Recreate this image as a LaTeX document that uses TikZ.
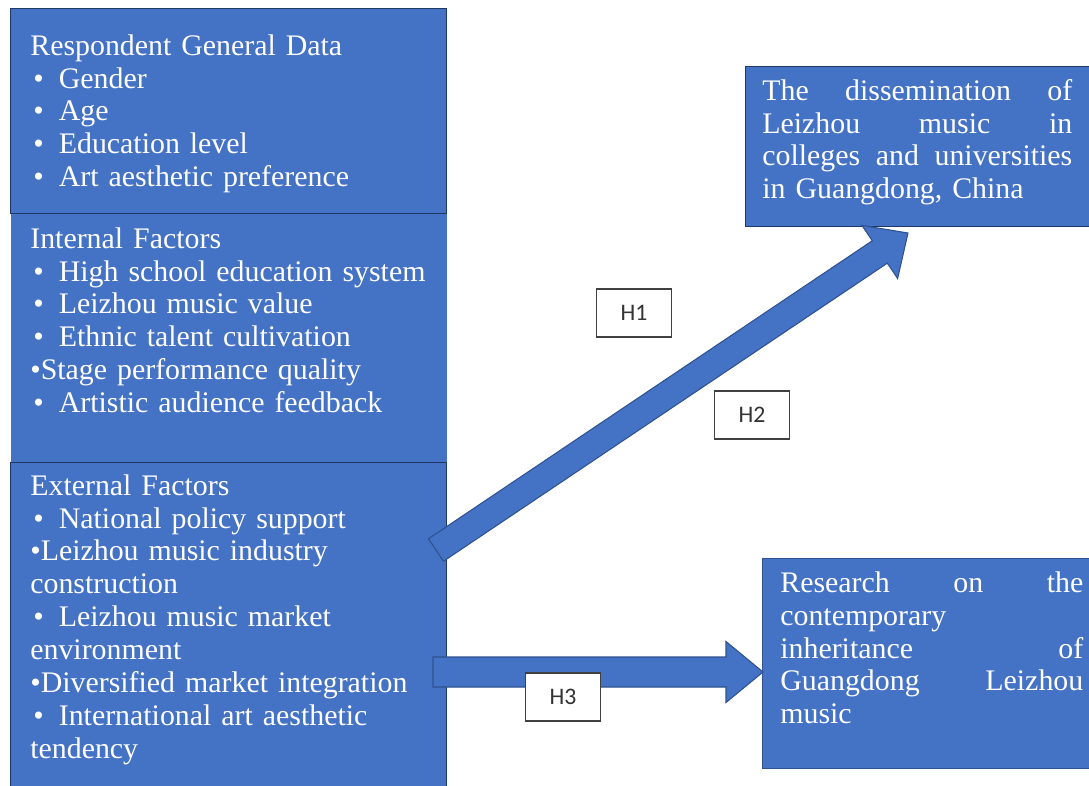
\documentclass[tikz,border=0pt]{standalone}
\usepackage{fontspec}
\setmainfont{Liberation Serif}
\newfontfamily\hfont{Carlito}
\usetikzlibrary{calc}
\usetikzlibrary{positioning}
\definecolor{boxblue}{HTML}{4472C4}
\definecolor{boxline}{HTML}{203864}
\definecolor{arrowline}{HTML}{2F528F}
\definecolor{hline}{HTML}{404040}
\tikzstyle{panel} = [rectangle, draw=boxline, line width=0.8pt, fill=boxblue,
    inner sep=0pt, anchor=north west]
\tikzstyle{txt} = [text=white, align=left, inner sep=0pt, anchor=base west,
    font=\fontsize{17}{18.78}\selectfont]
\tikzstyle{hyp} = [rectangle, draw=hline, fill=white, line width=0.8pt,
    minimum width=1.5cm, minimum height=0.96cm, text=black!80,
    font=\hfont\fontsize{13.5}{16}\selectfont]
\tikzstyle{block} = [fill=boxblue, draw=arrowline, line width=0.6pt]
\newcommand{\bul}{\makebox[0.57cm][l]{\hspace*{0.06cm}•}}
% tail, tip, half shaft, half head, head length
\newcommand{\blockarrow}[5]{%
  \path[block] ($(#1)!#3!90:(#2)$) -- ($(#2)!#5!(#1)!#3!90:(#2)$)
    -- ($(#2)!#5!(#1)!#4!90:(#2)$) -- (#2)
    -- ($(#2)!#5!(#1)!#4!-90:(#2)$) -- ($(#2)!#5!(#1)!#3!-90:(#2)$)
    -- ($(#1)!#3!-90:(#2)$) -- cycle;}

\begin{document}
\begin{tikzpicture}[x=0.02cm, y=-0.02cm]
    \useasboundingbox (0,0) rectangle (1089,785);
    \clip (0,0) rectangle (1089,785);
    % Place boxes
    \node[panel, draw=none, minimum width=8.72cm, minimum height=4.98cm] (intl) at (10,213) {};
    \node[panel, minimum width=8.72cm, minimum height=4.1cm] (gen) at (10,8) {};
    \node[panel, minimum width=8.72cm, minimum height=6.56cm] (ext) at (10,462) {};
    \node[panel, minimum width=7.1cm, minimum height=3.2cm] (dis) at (745,66) {};
    \node[panel, draw=arrowline, minimum width=6.76cm, minimum height=4.2cm] (res) at (762,558) {};
    % Place texts
    \node[txt, text width=8.3cm] (gentxt) at (30,55) {Respondent General Data\\
        \bul Gender\\ \bul Age\\ \bul Education level\\ \bul Art aesthetic preference};
    \node[txt, text width=8.3cm] (intltxt) at (30,248) {Internal Factors\\
        \bul High school education system\\ \bul Leizhou music value\\
        \bul Ethnic talent cultivation\\ •Stage performance quality\\
        \bul Artistic audience feedback};
    \node[txt, text width=8.3cm] (exttxt) at (30,495) {External Factors\\
        \bul National policy support\\ •Leizhou music industry\\ construction\\
        \bul Leizhou music market\\ environment\\ •Diversified market integration\\
        \bul International art aesthetic\\ tendency};
    \node[txt, text width=6.2cm] (distxt) at (762,100) {The\hfill dissemination\hfill of\\
        Leizhou\hfill music\hfill in\\ colleges\hfill and\hfill universities\\
        in Guangdong, China};
    \node[txt, text width=6.06cm] (restxt) at (780,592) {Research\hfill on\hfill the\\
        contemporary\\ inheritance\hfill of\\ Guangdong\hfill Leizhou\\ music};
    % Draw arrows
    \coordinate (h12tail) at (436,550);
    \coordinate (h12tip) at (908,233);
    \coordinate (h3tail) at (433,672);
    \coordinate (h3tip) at (763,672);
    \blockarrow{h12tail}{h12tip}{0.27cm}{0.64cm}{0.68cm}
    \blockarrow{h3tail}{h3tip}{0.3cm}{0.61cm}{0.74cm}
    % Hypothesis labels
    \node[hyp] (h1) at (634,313) {H1};
    \node[hyp] (h2) at (752,415) {H2};
    \node[hyp] (h3) at (563,697) {H3};
\end{tikzpicture}
\end{document}
